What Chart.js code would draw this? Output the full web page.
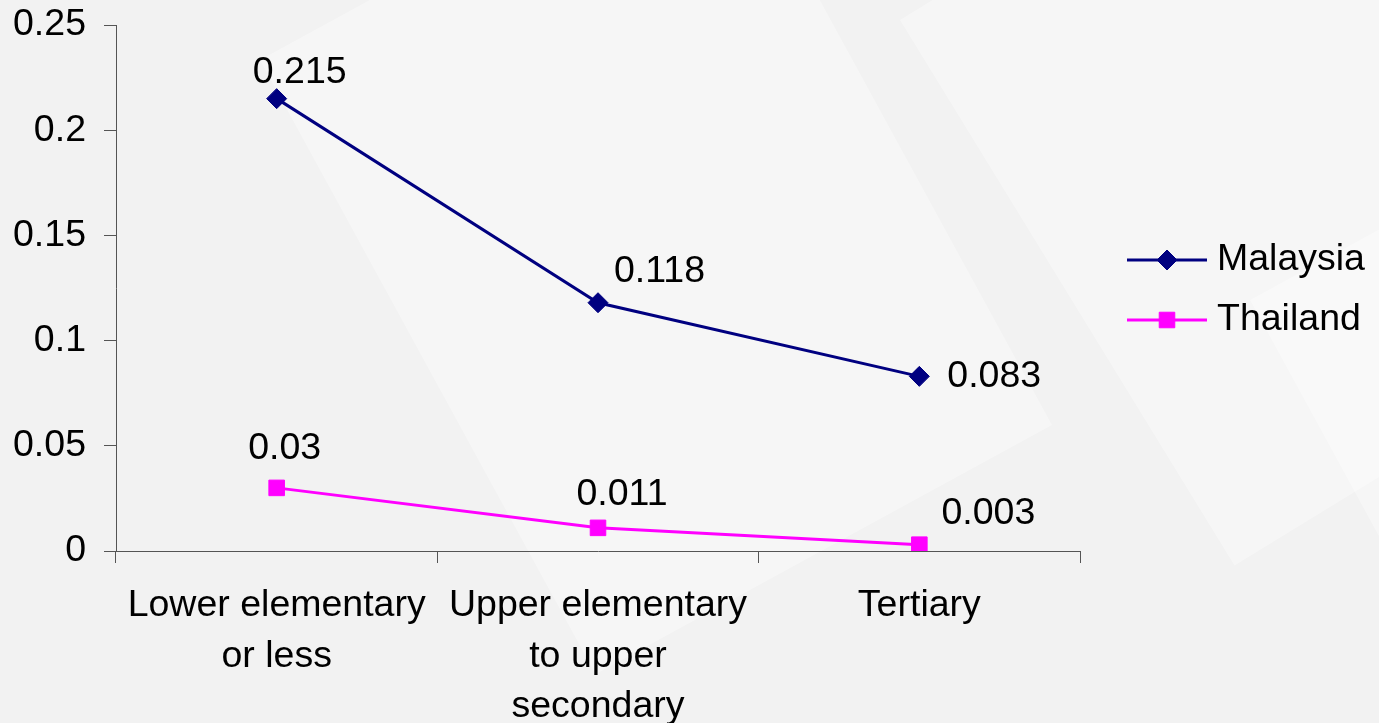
<!DOCTYPE html>
<html>
<head>
<meta charset="utf-8">
<script src="https://cdn.jsdelivr.net/npm/chart.js@4.4.1/dist/chart.umd.min.js"></script>
<style>
  html, body { margin: 0; padding: 0; background: #f3f3f3; }
</style>
</head>
<body>
<canvas id="myCanvas" width="1379" height="723"></canvas>
<script>
const categories = [["Lower elementary", "or less"], ["Upper elementary", "to upper", "secondary"], "Tertiary"];
const malaysia = [0.215, 0.118, 0.083];
const thailand = [0.03, 0.011, 0.003];
const yTicks = [0, 0.05, 0.1, 0.15, 0.2, 0.25];

const FONT = '"Liberation Sans", Arial, sans-serif';
const SIZE = 37.5;

// where each value label sits relative to its point: [dx, dy, align]
const malaysiaLabelPos = [[23, -26, "center"], [16, -31, "left"], [28, 0, "left"]];
const thailandLabelPos = [[8, -39, "center"], [24, -33, "center"], [69, -31, "center"]];

const background = {
  id: "background",
  beforeDraw(chart) {
    const { ctx, width, height } = chart;
    ctx.save();
    ctx.fillStyle = "#f2f2f2";
    ctx.fillRect(0, 0, width, height);
    // faint slanted panels like the slide backdrop
    ctx.fillStyle = "rgba(255,255,255,0.35)";
    const panels = [[260, 60, 520, 700, -0.5], [900, 20, 420, 640, -0.55], [1250, 300, 300, 600, -0.5]];
    panels.forEach(([x, y, w, h, a]) => {
      ctx.save();
      ctx.translate(x, y);
      ctx.rotate(a);
      ctx.fillRect(0, 0, w, h);
      ctx.restore();
    });
    ctx.restore();
  },
};

const valueLabels = {
  id: "valueLabels",
  afterDatasetsDraw(chart) {
    const { ctx } = chart;
    const positions = [malaysiaLabelPos, thailandLabelPos];
    ctx.save();
    ctx.font = SIZE + "px " + FONT;
    ctx.fillStyle = "#000";
    ctx.textBaseline = "middle";
    chart.data.datasets.forEach((ds, i) => {
      chart.getDatasetMeta(i).data.forEach((pt, j) => {
        const [dx, dy, align] = positions[i][j];
        ctx.textAlign = align;
        ctx.fillText(String(ds.data[j]), pt.x + dx, pt.y + dy);
      });
    });
    ctx.restore();
  },
};

const sideLegend = {
  id: "sideLegend",
  afterDraw(chart) {
    const { ctx } = chart;
    ctx.save();
    ctx.font = SIZE + "px " + FONT;
    ctx.textBaseline = "middle";
    ctx.textAlign = "left";
    chart.data.datasets.forEach((ds, i) => {
      const y = 260 + i * 60;
      ctx.strokeStyle = ds.borderColor;
      ctx.lineWidth = 3;
      ctx.beginPath();
      ctx.moveTo(1127, y);
      ctx.lineTo(1207, y);
      ctx.stroke();
      ctx.fillStyle = ds.pointBackgroundColor;
      ctx.strokeStyle = ds.pointBorderColor;
      ctx.lineWidth = 1;
      Chart.helpers.drawPoint(ctx, {
        pointStyle: ds.pointStyle,
        radius: ds.pointRadius,
        borderWidth: 1,
      }, 1167, y);
      ctx.fillStyle = "#000";
      ctx.fillText(ds.label, 1217, y);
    });
    ctx.restore();
  },
};

const printChart = () => {
  const canvas = document.getElementById("myCanvas");
  const ctx = canvas.getContext("2d");

  new Chart(ctx, {
    type: "line",
    data: {
      labels: categories,
      datasets: [
        {
          label: "Malaysia",
          data: malaysia,
          borderColor: "#000080",
          borderWidth: 3,
          pointStyle: "rectRot",
          pointRadius: 10,
          pointBackgroundColor: "#000080",
          pointBorderColor: "#000080",
          pointBorderWidth: 1,
          tension: 0,
        },
        {
          label: "Thailand",
          data: thailand,
          borderColor: "#ff00ff",
          borderWidth: 3,
          pointStyle: "rect",
          pointRadius: 11,
          pointBackgroundColor: "#ff00ff",
          pointBorderColor: "#ff00ff",
          pointBorderWidth: 1,
          tension: 0,
        },
      ],
    },
    options: {
      responsive: false,
      animation: false,
      layout: { padding: { top: 25, right: 299, left: 0, bottom: 0 } },
      plugins: {
        legend: { display: false },
        tooltip: { enabled: false },
      },
      scales: {
        x: {
          offset: true,
          afterFit: (s) => {
            s.height = 172;
            s.paddingLeft = 0;
            s.paddingRight = 0;
          },
          grid: {
            offset: true,
            drawOnChartArea: false,
            drawTicks: true,
            tickLength: 12,
            color: "#555",
          },
          border: { color: "#555", width: 1 },
          ticks: {
            color: "#000",
            padding: 18,
            maxRotation: 0,
            font: { family: FONT, size: SIZE, lineHeight: 1.34 },
          },
        },
        y: {
          min: 0,
          max: 0.25,
          afterFit: (s) => {
            s.width = 116;
            s.paddingTop = 0;
            s.paddingBottom = 0;
          },
          afterBuildTicks: (s) => { s.ticks = yTicks.map((v) => ({ value: v })); },
          grid: {
            drawOnChartArea: false,
            drawTicks: true,
            tickLength: 12,
            color: "#555",
          },
          border: { color: "#555", width: 1 },
          ticks: {
            color: "#000",
            padding: 18,
            font: { family: FONT, size: SIZE },
            callback: (v) => String(+Number(v).toFixed(2)),
          },
        },
      },
    },
    plugins: [background, valueLabels, sideLegend],
  });
};

printChart();
</script>
</body>
</html>
